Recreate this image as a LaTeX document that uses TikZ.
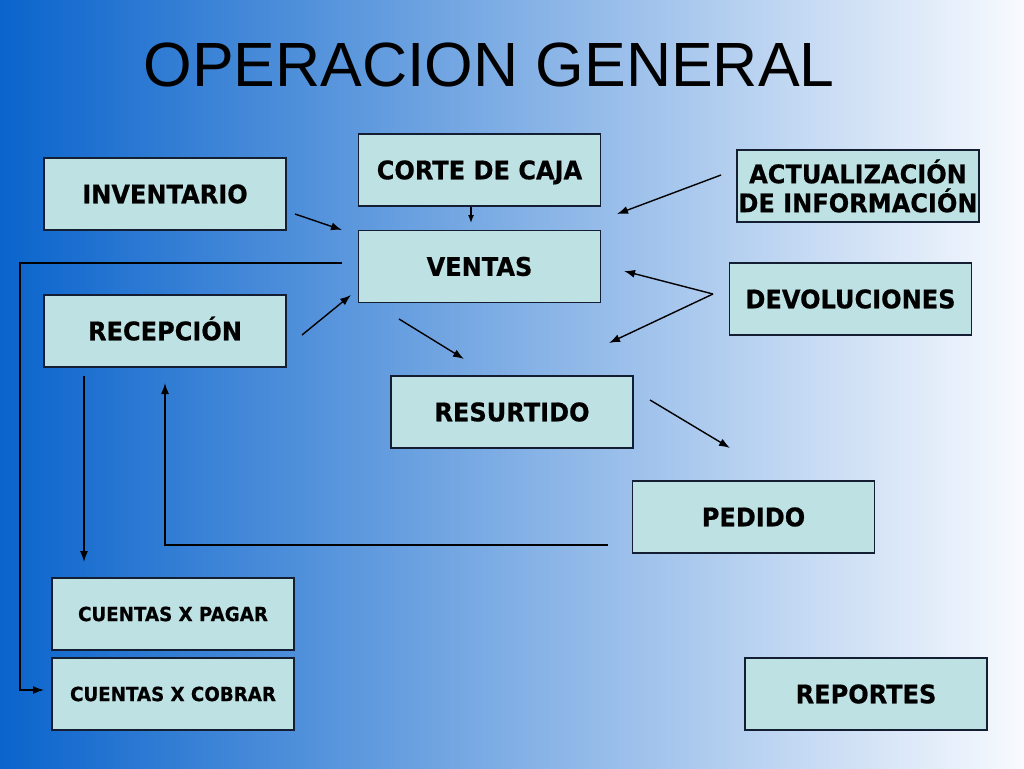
\documentclass[tikz,border=0pt]{standalone}
\usepackage{fontspec}
\setmainfont{DejaVu Sans}[FakeStretch=0.94, BoldFeatures={FakeBold=0.6}]
\newfontfamily\titlefont{Liberation Sans}
\usetikzlibrary{arrows.meta}
\definecolor{bgleft}{RGB}{10,100,204}
\definecolor{bgright}{RGB}{248,250,254}
\definecolor{boxfill}{RGB}{190,225,228}
\definecolor{boxline}{RGB}{20,30,50}
\tikzset{
  stepbox/.style={draw=boxline, line width=1.3pt, fill=boxfill, minimum width=242pt, minimum height=72pt, inner sep=0pt, font=\bfseries\fontsize{25.6}{29}\selectfont, text=black, align=center},
  onebox/.style={stepbox, text height=18.6pt, text depth=0pt},
  smallbox/.style={onebox, font=\bfseries\fontsize{19.4}{23}\selectfont, text height=14.1pt},
  conn/.style={draw=black, line width=1.4pt},
  arr/.style={conn, -{Latex[length=11pt,width=8pt]}}
}
\begin{document}
\begin{tikzpicture}[x=1pt,y=-1pt]
\useasboundingbox (0,0) rectangle (1024,768);
\shade[left color=bgleft, right color=bgright] (0,0) rectangle (1024,768);
\node[font=\titlefont\fontsize{62.5}{70}\selectfont, text=black, inner sep=0pt] (title) at (489,65) {OPERACION GENERAL};
% boxes
\node[onebox] (corte) at (479.5,170) {CORTE DE CAJA};
\node[onebox] (inv) at (165,194) {INVENTARIO};
\node[stepbox] (act) at (858,186) {ACTUALIZACIÓN\\DE INFORMACIÓN};
\node[onebox] (ventas) at (479.5,266.5) {VENTAS};
\node[onebox] (dev) at (850.5,299) {DEVOLUCIONES};
\node[onebox] (recep) at (165,331) {RECEPCIÓN};
\node[onebox] (resurt) at (512,412) {RESURTIDO};
\node[onebox] (pedido) at (753.5,517) {PEDIDO};
\node[smallbox] (cxp) at (173,614) {CUENTAS X PAGAR};
\node[smallbox] (cxc) at (173,694) {CUENTAS X COBRAR};
\node[onebox] (rep) at (866,694) {REPORTES};
% free ends of connectors
\coordinate (c1) at (471,207);
\coordinate (c2) at (471,223);
\coordinate (i1) at (295,214);
\coordinate (i2) at (342,230);
\coordinate (r1) at (302,335);
\coordinate (r2) at (351,295);
\coordinate (v0) at (342,263);
\coordinate (v1) at (20,263);
\coordinate (v2) at (20,690);
\coordinate (v3) at (44,690);
\coordinate (s1) at (399,319);
\coordinate (s2) at (464,359);
\coordinate (a1) at (721,175);
\coordinate (a2) at (617,214);
\coordinate (d0) at (713,294);
\coordinate (d1) at (624,271);
\coordinate (d2) at (609,343);
\coordinate (p1) at (650,400);
\coordinate (p2) at (730,448);
\coordinate (k1) at (84,376);
\coordinate (k2) at (84,562);
\coordinate (e1) at (608,545);
\coordinate (e2) at (165,545);
\coordinate (e3) at (165,383);
% connectors
\draw[arr, -{Latex[length=8pt,width=6pt]}] (c1) -- (c2);
\draw[arr] (i1) -- (i2);
\draw[arr] (r1) -- (r2);
\draw[arr] (v0) -- (v1) -- (v2) -- (v3);
\draw[arr] (s1) -- (s2);
\draw[arr] (a1) -- (a2);
\draw[arr] (d0) -- (d1);
\draw[arr] (d0) -- (d2);
\draw[arr] (p1) -- (p2);
\draw[arr] (k1) -- (k2);
\draw[arr] (e1) -- (e2) -- (e3);
\end{tikzpicture}
\end{document}
